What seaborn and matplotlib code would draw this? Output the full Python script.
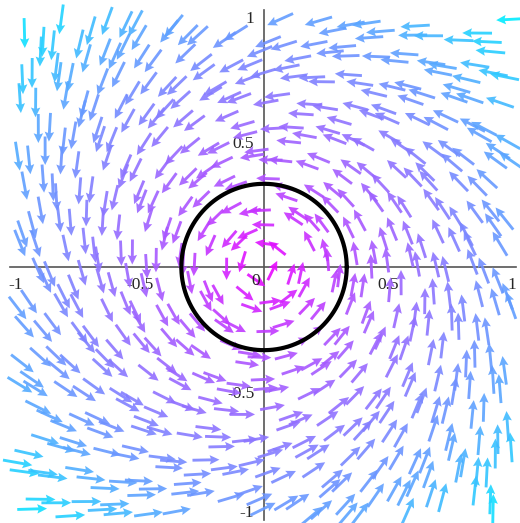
import numpy as np
import matplotlib
matplotlib.use("Agg")
import matplotlib.pyplot as plt
import matplotlib.transforms as mtransforms
import seaborn as sns

# field sample grid (regular grid + small hand-set offsets to break the lattice)
x_grid = np.linspace(-1.0, 1.0, 25)
y_grid = np.linspace(-1.0, 1.0, 25)
offset_x = [0.31, -0.22, 0.08, -0.37, 0.19, -0.05, 0.41]
offset_y = [-0.28, 0.12, 0.36, -0.09, -0.41, 0.25, 0.03, -0.17, 0.33, -0.34, 0.15]

# field: rotation with a limit cycle at radius R
R = 1 / 3
c = 0.6
cycle_radius = R
tick_major = [-1, -0.5, 0.5, 1]
tick_labels = ["-1", "-0.5", "0.5", "1"]

sns.set_style("white")
plt.rcParams["font.family"] = ["Liberation Serif", "DejaVu Serif"]
plt.rcParams["axes.unicode_minus"] = False

X, Y = np.meshgrid(x_grid, y_grid)
step = x_grid[1] - x_grid[0]
ni, nj = X.shape
DX = np.array([[offset_x[(i * 3 + j) % len(offset_x)] for j in range(nj)] for i in range(ni)])
DY = np.array([[offset_y[(i * 5 + j * 2) % len(offset_y)] for j in range(nj)] for i in range(ni)])
X = (X + DX * step).ravel()
Y = (Y + DY * step).ravel()
keep = (np.abs(X) <= 1.0) & (np.abs(Y) <= 1.0)
X, Y = X[keep], Y[keep]

r2 = X**2 + Y**2
U = -Y + c * X * (R**2 - r2)
V = X + c * Y * (R**2 - r2)
mag = np.hypot(U, V)
r = np.sqrt(r2)
L = 0.085 + 0.035 * np.clip(r / 1.2, 0, 1)
U = U / mag * L
V = V / mag * L

cmap = sns.blend_palette(["#ee00ff", "#b050ff", "#8a78ff", "#5aa6ff", "#00eeff"], as_cmap=True)
colors = cmap(np.clip(r / 1.42, 0, 1))

fig = plt.figure(figsize=(5.2, 5.23), dpi=100)
ax = fig.add_axes([0, 0, 1, 1])
ax.set_xlim(-1.0645, 1.032)
ax.set_ylim(-1.026, 1.07)

ax.quiver(X - U / 2, Y - V / 2, U, V, color=colors, angles="xy",
          scale_units="xy", scale=1, width=0.0055, headwidth=3.3,
          headlength=3.4, headaxislength=3.0, alpha=0.9, zorder=2)

theta = np.linspace(0, 2 * np.pi, 400)
ax.plot(cycle_radius * np.cos(theta), cycle_radius * np.sin(theta),
        color="black", lw=3, zorder=3)

# Maple-style axes through the origin
for s in ["top", "right"]:
    ax.spines[s].set_visible(False)
ax.spines["left"].set_position(("data", 0))
ax.spines["bottom"].set_position(("data", 0))
ax.spines["left"].set_bounds(-1.015, 1.03)
ax.spines["bottom"].set_bounds(-1.024, 1.016)
for s in ["left", "bottom"]:
    ax.spines[s].set_color("#555555")
    ax.spines[s].set_linewidth(1.2)
    ax.spines[s].set_zorder(1)

ax.set_xticks(tick_major)
ax.set_xticklabels(tick_labels)
ax.set_yticks(tick_major)
ax.set_yticklabels(tick_labels)
ax.set_xticks(np.arange(-1, 1.01, 0.1), minor=True)
ax.set_yticks(np.arange(-1, 1.01, 0.1), minor=True)
ax.tick_params(which="major", length=4, width=1, color="#555555",
               labelsize=12.5, pad=3, direction="out")
ax.tick_params(which="minor", length=2.5, width=0.8, color="#555555",
               direction="out")
ax.text(-0.015, -0.025, "0", ha="right", va="top", fontsize=12.5)

# keep the bottom "-1" label inside the canvas
lab = ax.get_yticklabels()[0]
lab.set_transform(lab.get_transform() + mtransforms.ScaledTranslation(0, 4 / 72, fig.dpi_scale_trans))

fig.savefig("out.png", dpi=100)
